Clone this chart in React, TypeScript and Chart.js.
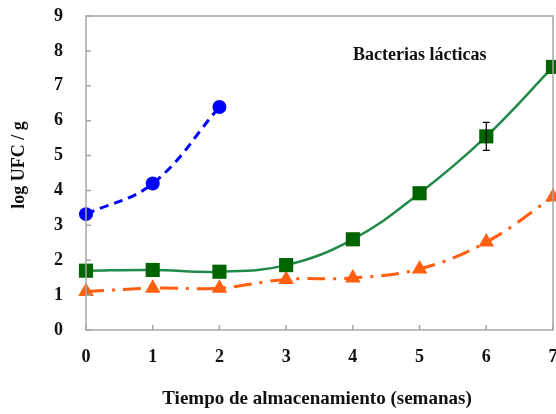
import React, { useEffect, useRef } from "react";
import { Chart, registerables } from "chart.js";

Chart.register(...registerables);

const weeks = [0, 1, 2, 3, 4, 5, 6, 7];
const blueWeeks = [0, 1, 2];
const blueValues = [3.32, 4.2, 6.39];
const greenValues = [1.7, 1.72, 1.67, 1.86, 2.6, 3.92, 5.55, 7.54];
const greenErrors = [0, 0, 0, 0, 0, 0, 0.4, 0];
const orangeValues = [1.1, 1.2, 1.2, 1.45, 1.49, 1.75, 2.52, 3.81];
const yTicks = [0, 1, 2, 3, 4, 5, 6, 7, 8, 9];
const xTitle = "Tiempo de almacenamiento (semanas)";
const yTitle = "log UFC / g";
const annotation = "Bacterias lácticas";

const FONT = "'Liberation Serif', 'Times New Roman', serif";

const decor = {
  id: "decor",
  afterDatasetsDraw(chart: any) {
    const { ctx, chartArea: a, scales } = chart;
    const xs = scales.x;
    const ys = scales.y;
    ctx.save();
    ctx.strokeStyle = "#a6a6a6";
    ctx.lineWidth = 1.5;
    ctx.strokeRect(a.left, a.top, a.right - a.left, a.bottom - a.top);
    ctx.beginPath();
    yTicks.forEach((v) => {
      const p = ys.getPixelForValue(v);
      ctx.moveTo(a.left, p);
      ctx.lineTo(a.left + 5, p);
    });
    weeks.forEach((v) => {
      const p = xs.getPixelForValue(v);
      ctx.moveTo(p, a.bottom);
      ctx.lineTo(p, a.bottom - 5);
    });
    ctx.stroke();
    ctx.strokeStyle = "#000";
    ctx.lineWidth = 1.2;
    greenErrors.forEach((e, i) => {
      if (!e) return;
      const px = xs.getPixelForValue(weeks[i]);
      const t = ys.getPixelForValue(greenValues[i] + e);
      const b = ys.getPixelForValue(greenValues[i] - e);
      ctx.beginPath();
      ctx.moveTo(px, t);
      ctx.lineTo(px, b);
      ctx.moveTo(px - 3.5, t);
      ctx.lineTo(px + 3.5, t);
      ctx.moveTo(px - 3.5, b);
      ctx.lineTo(px + 3.5, b);
      ctx.stroke();
    });
    ctx.fillStyle = "#111";
    ctx.font = `bold 18px ${FONT}`;
    ctx.textAlign = "left";
    ctx.textBaseline = "middle";
    ctx.fillText(annotation, 353, 55);
    ctx.font = `bold 19px ${FONT}`;
    ctx.textAlign = "center";
    ctx.fillText(xTitle, 317, 399);
    ctx.translate(19, 165);
    ctx.rotate(-Math.PI / 2);
    ctx.font = `bold 18px ${FONT}`;
    ctx.fillText(yTitle, 0, 0);
    ctx.restore();
  },
};

export default function App() {
  const ref = useRef<HTMLCanvasElement>(null);
  useEffect(() => {
    if (!ref.current) return;
    const chart = new Chart(ref.current, {
      type: "line",
      data: {
        datasets: [
          {
            data: blueWeeks.map((x, i) => ({ x, y: blueValues[i] })),
            borderColor: "#0000ff",
            backgroundColor: "#0000ff",
            borderWidth: 3,
            borderDash: [9, 6],
            tension: 0.4,
            pointStyle: "circle",
            pointRadius: 7,
            pointBorderWidth: 0,
            clip: false,
          },
          {
            data: weeks.map((x, i) => ({ x, y: greenValues[i] })),
            borderColor: "#218a4a",
            backgroundColor: "#006400",
            borderWidth: 2.5,
            tension: 0.4,
            pointStyle: "rect",
            pointRadius: 10,
            pointBorderWidth: 0,
            clip: false,
          },
          {
            data: weeks.map((x, i) => ({ x, y: orangeValues[i] })),
            borderColor: "#ff5f0f",
            backgroundColor: "#ff5f0f",
            borderWidth: 3,
            borderDash: [18, 8, 3, 8],
            tension: 0.4,
            pointStyle: "triangle",
            pointRadius: 9,
            pointBorderWidth: 0,
            clip: false,
          },
        ],
      },
      options: {
        animation: false,
        responsive: false,
        layout: { autoPadding: false, padding: { top: 16, right: 3, left: 0, bottom: 0 } },
        plugins: { legend: { display: false }, tooltip: { enabled: false } },
        scales: {
          x: {
            type: "linear",
            min: 0,
            max: 7,
            grid: { display: false },
            border: { display: false },
            ticks: {
              stepSize: 1,
              padding: 9,
              color: "#111",
              font: { family: FONT, size: 18, weight: "bold" },
            },
            afterFit(s: any) {
              s.height = 84;
              s.paddingLeft = 0;
              s.paddingRight = 0;
            },
          },
          y: {
            min: 0,
            max: 9,
            grid: { display: false },
            border: { display: false },
            ticks: {
              stepSize: 1,
              padding: 15,
              color: "#111",
              font: { family: FONT, size: 18, weight: "bold" },
            },
            afterFit(s: any) {
              s.width = 86;
              s.paddingTop = 0;
              s.paddingBottom = 0;
            },
          },
        },
      } as any,
      plugins: [decor],
    });
    return () => chart.destroy();
  }, []);
  return (
    <div style={{ position: "absolute", left: 0, top: 0, width: 556, height: 414, background: "#fff" }}>
      <canvas ref={ref} width={556} height={414} />
    </div>
  );
}
